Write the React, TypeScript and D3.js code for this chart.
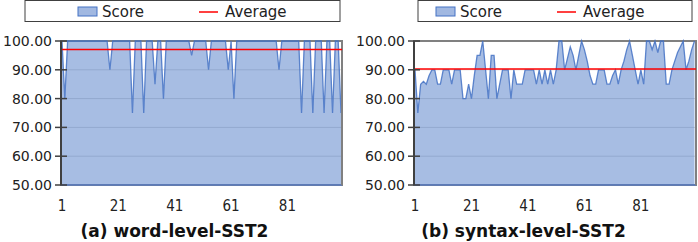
import * as d3 from 'd3';
import React from 'react';

// scores per sample (1..100)
const wordLevelScores = [
  100, 80, 100, 100, 100, 100, 100, 100, 100, 100,
  100, 100, 100, 100, 100, 100, 100, 90, 100, 100,
  100, 100, 100, 100, 100, 75, 100, 100, 100, 75,
  100, 100, 100, 85, 100, 100, 80, 100, 100, 100,
  100, 100, 100, 100, 100, 100, 95, 100, 100, 100,
  100, 100, 90, 100, 100, 100, 100, 100, 100, 90,
  100, 80, 100, 100, 100, 100, 100, 100, 100, 100,
  100, 100, 100, 100, 100, 100, 100, 90, 100, 100,
  100, 100, 100, 100, 100, 75, 100, 100, 100, 75,
  100, 100, 100, 75, 100, 100, 75, 100, 100, 75,
];

const syntaxLevelScores = [
  90, 75, 85, 86, 85, 88, 90, 90, 85, 85,
  90, 90, 90, 85, 90, 90, 90, 80, 80, 85,
  80, 88, 95, 95, 100, 90, 80, 95, 95, 80,
  85, 90, 90, 90, 80, 90, 85, 85, 85, 90,
  90, 90, 90, 85, 90, 85, 90, 85, 90, 85,
  90, 100, 100, 90, 94, 98, 95, 90, 95, 100,
  97, 93, 88, 85, 85, 90, 90, 90, 85, 85,
  88, 90, 85, 90, 93, 97, 100, 95, 90, 85,
  90, 85, 100, 100, 97, 100, 96, 100, 100, 85,
  85, 90, 93, 96, 98, 100, 90, 93, 97, 100,
];

const panelTitles = ['(a) word-level-SST2', '(b) syntax-level-SST2'];
const yTicks = [50, 60, 70, 80, 90, 100];
const xTickLabels = [1, 21, 41, 61, 81];
const legendLabels = ['Score', 'Average'];

const W = 698;
const H = 242;
const top = 41;
const bottom = 185;

const BLUE = '#4472c4';
const FONT = "'DejaVu Sans', Verdana, sans-serif";

const panels = [
  { data: wordLevelScores, title: panelTitles[0], left: 61, right: 342, x0: 62, x1: 341,
    box: [25, 340], swatch: 78, scoreText: 102, redLine: 199, avgText: 225, titleX: 174.5 },
  { data: syntaxLevelScores, title: panelTitles[1], left: 414, right: 696, x0: 415, x1: 694.5,
    box: [418, 692], swatch: 436, scoreText: 460, redLine: 557, avgText: 583, titleX: 523.5 },
];

function Panel (props: any): any {
  const p = props.panel;
  const y = d3.scaleLinear().domain([50, 100]).range([bottom, top]);
  const x = d3.scaleLinear().domain([1, p.data.length]).range([p.x0, p.x1]);
  const avg = d3.mean(p.data) as number;

  const area = d3.area<number>()
    .x((_, i) => x(i + 1))
    .y0(y(50))
    .y1(d => y(d));

  const line = d3.line<number>()
    .x((_, i) => x(i + 1))
    .y(d => y(d));

  return (
    <g>
      {/* legend */}
      <rect x={p.box[0]} y={0.5} width={p.box[1] - p.box[0]} height={21}
        fill="white" stroke="#404040" strokeWidth={1} />
      <rect x={p.swatch} y={7} width={19} height={9}
        fill={BLUE} fillOpacity={0.5} stroke={BLUE} strokeWidth={1} />
      <text x={p.scoreText} y={17} fontSize={15} fontFamily={FONT} fill="#222">{legendLabels[0]}</text>
      <line x1={p.redLine} x2={p.redLine + 19} y1={12} y2={12} stroke="#ff0000" strokeWidth={1.5} />
      <text x={p.avgText} y={17} fontSize={15} fontFamily={FONT} fill="#222">{legendLabels[1]}</text>

      {/* frame + grid */}
      <rect x={p.left} y={top} width={p.right - p.left} height={bottom - top}
        fill="white" stroke="#808080" strokeWidth={2} />
      {yTicks.slice(1, -1).map(t => (
        <line key={t} x1={p.left} x2={p.right} y1={y(t)} y2={y(t)} stroke="#d9d9d9" strokeWidth={1} />
      ))}

      {/* area */}
      <path d={area(p.data) as string} fill={BLUE} fillOpacity={0.47} stroke="none" />
      <path d={line(p.data) as string} fill="none" stroke={BLUE} strokeWidth={1.3} strokeOpacity={0.85} />
      <line x1={p.left} x2={p.right} y1={bottom} y2={bottom} stroke="#5a7bbf" strokeWidth={1.5} />
      <line x1={p.right} x2={p.right} y1={top} y2={bottom} stroke="#808080" strokeWidth={2} />

      {/* average */}
      <line x1={p.left} x2={p.right} y1={y(avg)} y2={y(avg)} stroke="#ff0000" strokeWidth={1.5} />

      {/* y axis */}
      <line x1={p.left} x2={p.left} y1={top} y2={bottom} stroke="#404040" strokeWidth={2} />
      {yTicks.map(t => (
        <g key={t}>
          <line x1={p.left - 6} x2={p.left + 6} y1={y(t)} y2={y(t)} stroke="#404040" strokeWidth={1.5} />
          <text x={p.left - 9} y={y(t)} dy="0.35em" textAnchor="end"
            fontSize={14} fontFamily={FONT} fill="#222">{t.toFixed(2)}</text>
        </g>
      ))}

      {/* x labels */}
      {xTickLabels.map(t => (
        <text key={t} x={x(t)} y={211} textAnchor="middle" fontSize={15}
          fontFamily="'DejaVu Sans Condensed', 'DejaVu Sans', sans-serif" fill="#222">{t}</text>
      ))}

      <text x={p.titleX} y={237} textAnchor="middle" fontSize={17} fontWeight="bold"
        fontFamily={FONT} fill="#111">{p.title}</text>
    </g>
  );
}

export default function App (): any {
  return (
    <svg width={W} height={H} viewBox={`0 0 ${W} ${H}`}
      style={{ position: 'absolute', left: 0, top: 0, background: 'white' }}>
      {panels.map((p, i) => <Panel key={i} panel={p} />)}
    </svg>
  );
}
